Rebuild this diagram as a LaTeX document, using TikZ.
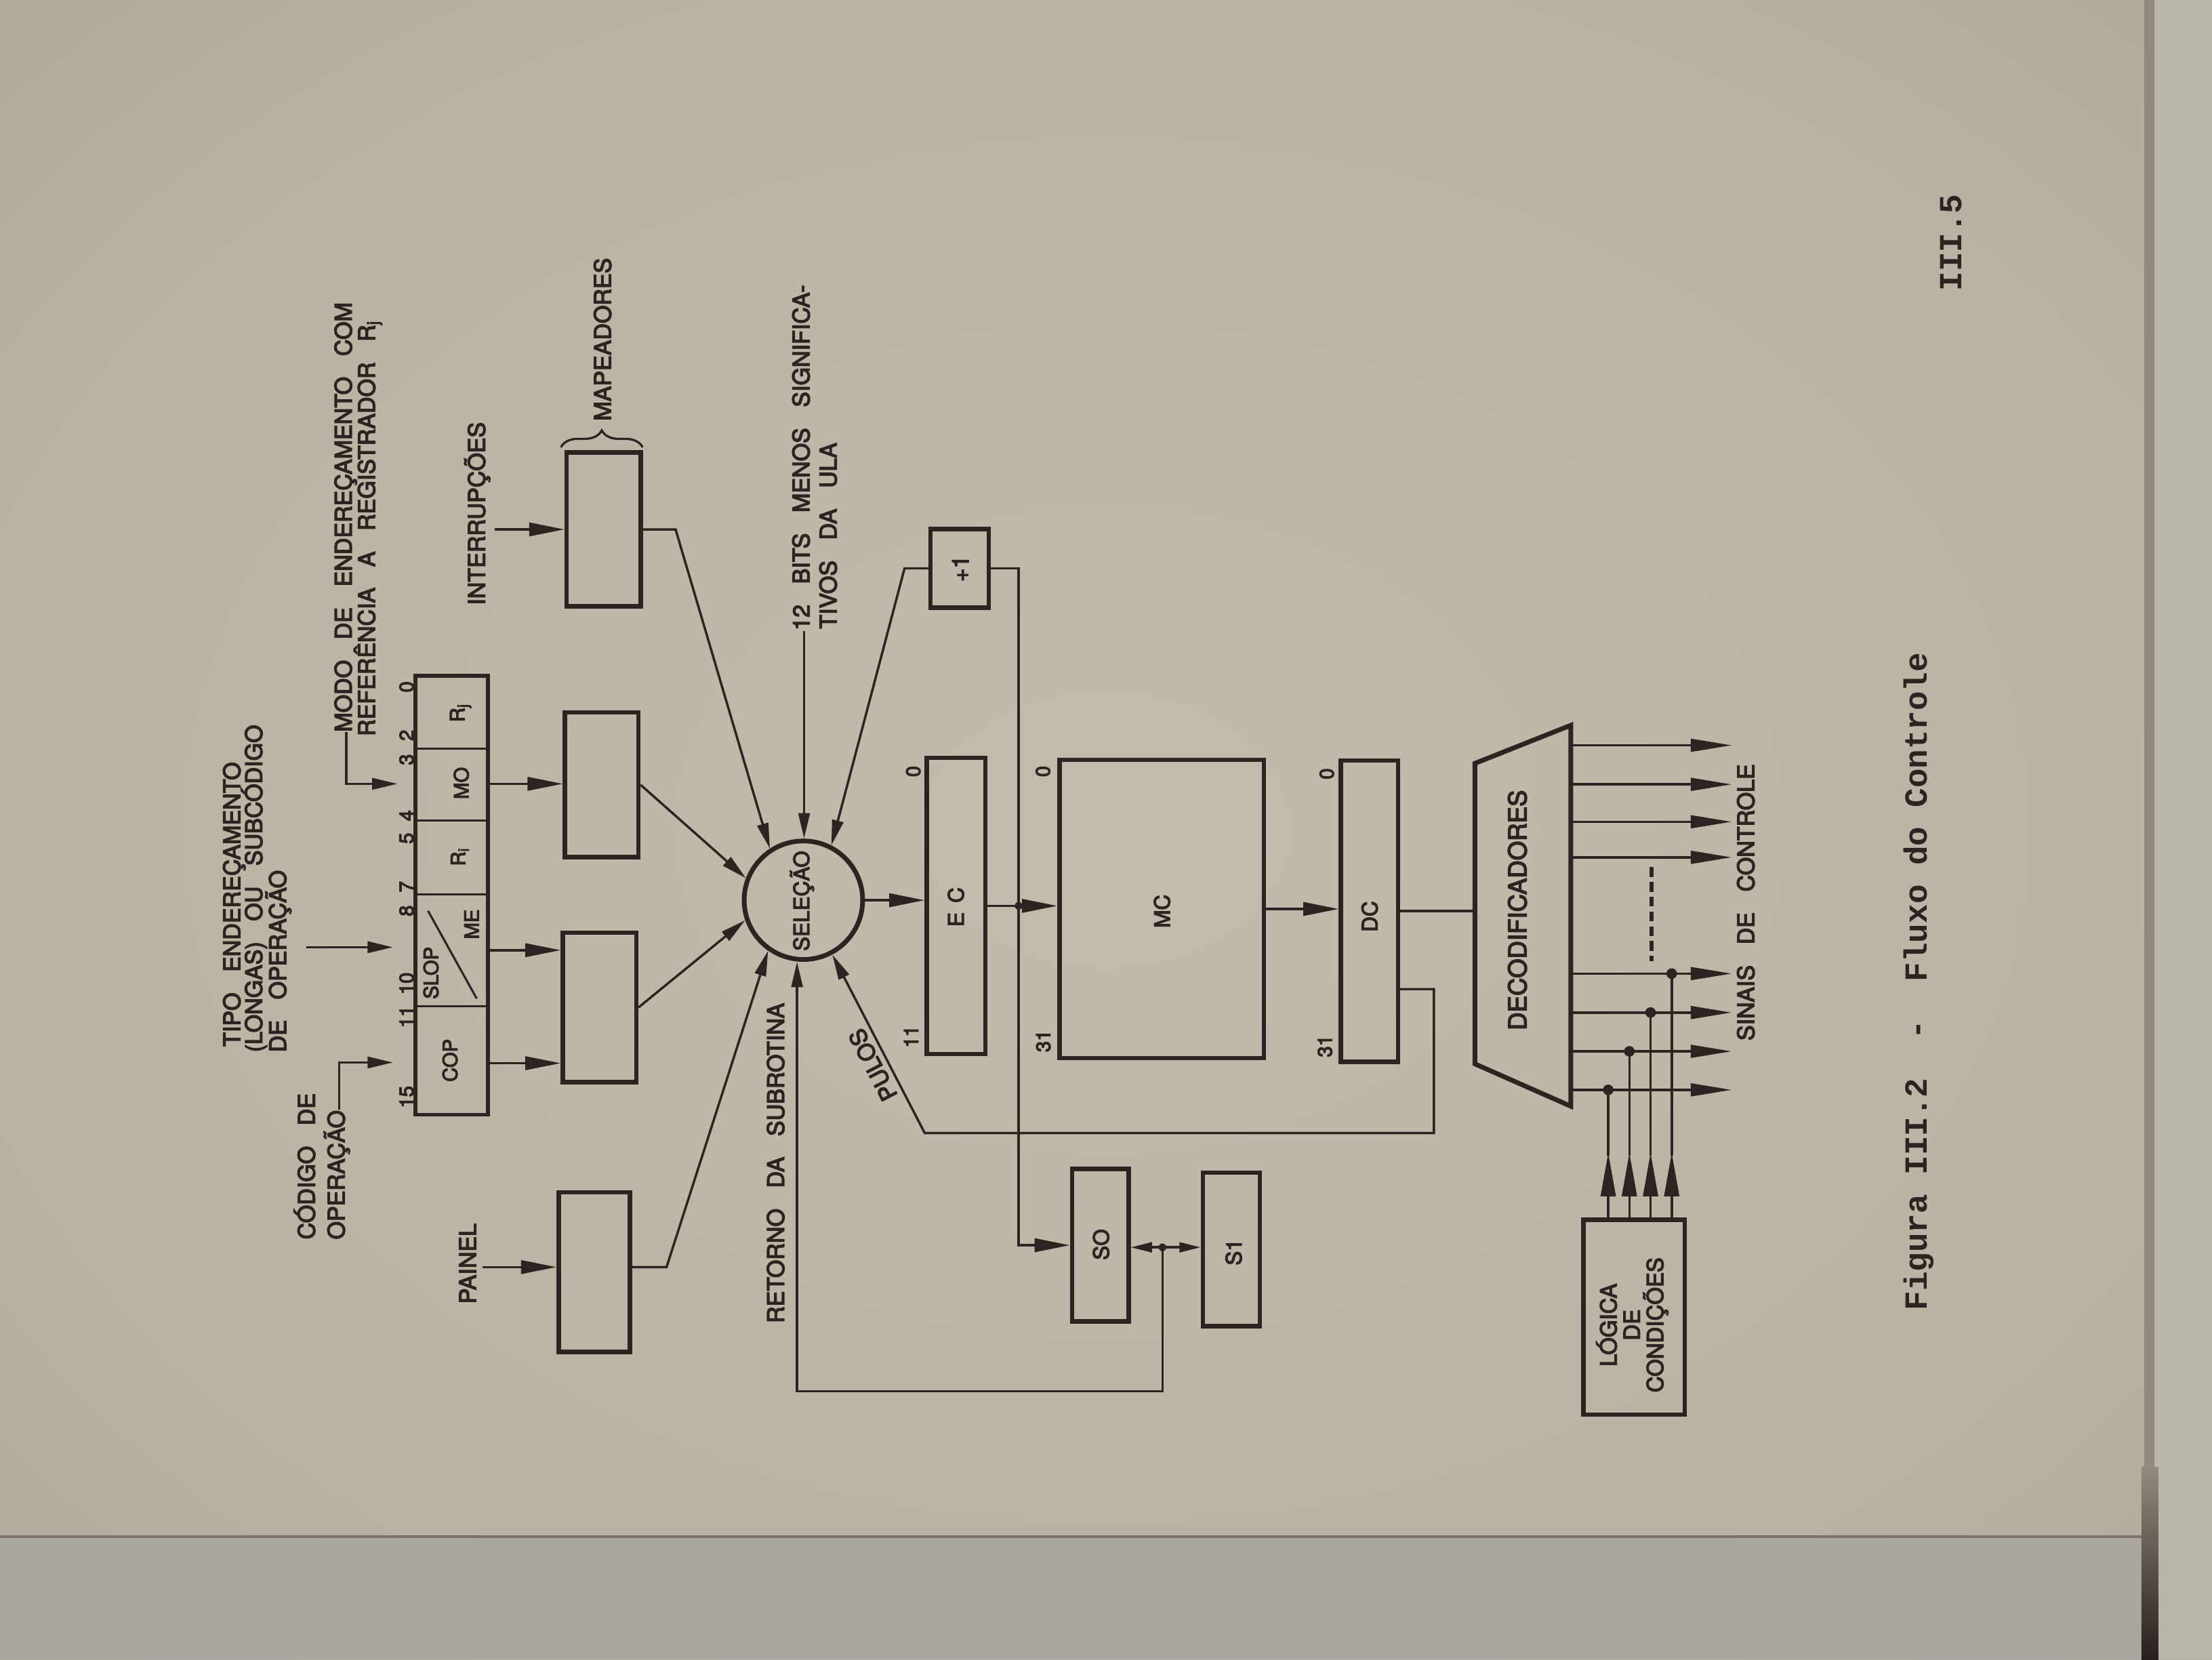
\documentclass[tikz,border=0pt]{standalone}
\usepackage{fontspec}
\setmonofont{Liberation Mono}
\newfontfamily\lettering{TeX Gyre Heros}[FakeBold=4]
\usetikzlibrary{arrows.meta,decorations.pathreplacing,calc}

\definecolor{ink}{RGB}{44,36,32}
\definecolor{paper}{RGB}{186,179,164}
\definecolor{paperhi}{RGB}{194,188,174}
\definecolor{paperlo}{RGB}{162,156,143}
\definecolor{nextpage}{RGB}{172,167,158}
\definecolor{bookedge}{RGB}{38,31,28}
\definecolor{farpage}{RGB}{186,181,170}

\pgfdeclareradialshading{paperglow}{\pgfpoint{0bp}{0bp}}{color(0bp)=(paperhi); color(25bp)=(paper); color(50bp)=(paperlo); color(80bp)=(paperlo)}

\newcommand\gap{\hspace{0.9em}}

\begin{document}
\begin{tikzpicture}[x=0.2mm,y=-0.2mm,
  wire/.style={draw=ink,line width=0.95pt},
  blk/.style 2 args={draw=ink,line width=1.8pt,inner sep=0pt,minimum width=#1*0.2mm,minimum height=#2*0.2mm},
  arrB/.style={-{Triangle[length=5mm,width=1.9mm]}},
  arrS/.style={-{Triangle[length=3.6mm,width=1.6mm]}},
  arrT/.style={-{Triangle[length=3mm,width=1.4mm]}},
  arrD/.style={-{Triangle[length=5.8mm,width=1.8mm]}},
  arrU/.style={-{Triangle[length=6.2mm,width=2.1mm]}},
  lbl/.style={font=\lettering\fontsize{9.3}{10}\selectfont,text=ink,rotate=90,inner sep=0pt},
  lbls/.style={font=\lettering\fontsize{8}{9}\selectfont,text=ink,rotate=90,inner sep=0pt},
  lblm/.style={font=\lettering\fontsize{8.6}{9}\selectfont,text=ink,rotate=90,inner sep=0pt},
  jdot/.style={circle,fill=ink,inner sep=0pt,minimum size=1.1mm},
  jdotL/.style={circle,fill=ink,inner sep=0pt,minimum size=1.5mm},
  tw/.style={font=\ttfamily\bfseries\fontsize{13}{14}\selectfont,text=ink,rotate=90,inner sep=0pt}
]
\useasboundingbox (0,0) rectangle (1568,1176);

% paper, next page and book edge
\shade[shading=paperglow] (0,0) rectangle (1568,1176);
\fill[nextpage] (0,1089) rectangle (1520,1176);
\draw[line width=1pt,draw=ink!40!nextpage] (0,1089) -- (1520,1089);
\fill[farpage] (1527,0) rectangle (1568,1176);
\fill[paperlo!85!ink] (1520,0) rectangle (1527,1176);
\shade[top color=paperlo!85!ink,bottom color=bookedge] (1518,1040) rectangle (1530,1176);

% ---------- instruction register ----------
\node[blk={51.3}{311},line width=1.6pt] (reg) at (320.2,634.5) {};
\draw[ink,line width=0.85pt] (294.6,530.5) -- (345.9,530.5) (294.6,581.5) -- (345.9,581.5)
  (294.6,633.7) -- (345.9,633.7) (294.6,713.2) -- (345.9,713.2);
\draw[ink,line width=0.85pt] (303.4,645.5) -- (337.9,707.7);
\node[lbls] (fRj) at (326.5,505) {R\textsubscript{j}};
\node[lbls] (fMO) at (327,555) {MO};
\node[lbls] (fRi) at (326,607) {R\textsubscript{i}};
\node[lbls] (fME) at (334.3,655) {ME};
\node[lbls] (fSLOP) at (305.5,689.5) {SLOP};
\node[lbls] (fCOP) at (319,751.5) {COP};
\foreach \t/\yy [count=\i] in {0/486.8,2/521.1,3/538.3,4/578,5/594.1,7/628.4,8/645.5,10/697,11/720.6,15/777.4}
  \node[lbls] (bit\i) at (288.2,\yy) {\t};

% ---------- labels on the left ----------
\node[lbl,anchor=mid west] (tipo1) at (166.5,742) {TIPO\gap ENDEREÇAMENTO};
\node[lbl,anchor=mid west] (tipo2) at (182,746) {(LONGAS)\gap OU\gap SUBCÓDIGO};
\node[lbl,anchor=mid west] (tipo3) at (199,746) {DE\gap OPERAÇÃO};
\node[lbl,anchor=mid west] (cod1) at (219.4,878.7) {CÓDIGO\gap DE};
\node[lbl,anchor=mid west] (cod2) at (240.5,878.7) {OPERAÇÃO};
\node[lbl,anchor=mid west] (modo1) at (245.5,519) {MODO\gap DE\gap ENDEREÇAMENTO\gap COM};
\node[lbl,anchor=mid west] (modo2) at (262,522) {REFERÊNCIA\gap A\gap REGISTRADOR\gap R\textsubscript{j}};
\node[lbl] (painel) at (331.5,895.5) {PAINEL};
\node[lbl] (interr) at (338.3,364) {INTERRUPÇÕES};
\node[lbl,anchor=mid west] (mapead) at (429.3,298.5) {MAPEADORES};
\node[lbl,anchor=mid west] (bits1) at (570,447) {12\gap BITS\gap MENOS\gap SIGNIFICA-};
\node[lbl,anchor=mid west] (bits2) at (589.2,446) {TIVOS\gap DA\gap ULA};
\node[lbl,anchor=mid west] (retorno) at (552,938) {RETORNO\gap DA\gap SUBROTINA};

% ---------- boxes ----------
\node[blk={52}{102.5}] (boxA) at (426.5,556.2) {};
\node[blk={52}{106}] (boxB) at (425,714) {};
\node[blk={50.5}{113}] (boxC) at (421.2,901.5) {};
\node[blk={52.4}{109}] (map) at (427.9,375.2) {};
\node[blk={41.3}{56}] (plus) at (680.3,402.8) {};
\node[blk={41.5}{210}] (ec) at (677.7,642) {};
\node[blk={145}{211.5}] (mc) at (823.5,644.2) {};
\node[blk={40.5}{213.5}] (dc) at (970.7,645.7) {};
\node[blk={40}{108}] (so) at (780,882.5) {};
\node[blk={40.4}{109}] (s1) at (872.8,885.5) {};
\node[blk={71.7}{138}] (logica) at (1158.3,933.5) {};
\node[circle,draw=ink,line width=1.9pt,minimum size=84*0.2mm,inner sep=0pt] (sel) at (569.5,638) {};

\draw[ink,line width=0.9pt,decorate,decoration={brace,amplitude=2.4mm}] (397.6,317) -- (455.5,317);

\node[lblm] (seltxt) at (568.5,638.5) {SELEÇÃO};
\node[lblm] (ectxt) at (677.6,642.8) {E\hspace{0.45em}C};
\node[lblm] (mctxt) at (823.7,645.8) {MC};
\node[lblm] (dctxt) at (970.9,649.5) {DC};
\node[lblm] (sotxt) at (780.5,882) {SO};
\node[lblm] (s1txt) at (874.5,887.5) {S1};
\node[lbl] (plustxt) at (680.8,403) {+1};
\node[lbl,font=\lettering\fontsize{10}{11}\selectfont] (dectxt) at (1075.6,645) {DECODIFICADORES};
\node[lbl,align=center,font=\lettering\fontsize{9}{9.4}\selectfont] (logtxt) at (1157,939) {LÓGICA\\DE\\CONDIÇÕES};

\node[lbls] (ec0) at (647.4,546.7) {0};
\node[lbls] (ec11) at (645.8,734.7) {11};
\node[lbls] (mc0) at (739.3,546.7) {0};
\node[lbls] (mc31) at (739.6,737.8) {31};
\node[lbls] (dc0) at (940.5,548.4) {0};
\node[lbls] (dc31) at (939.2,741.4) {31};

% ---------- inputs to the register ----------
\coordinate (tipoS) at (217,671.3);
\coordinate (tipoE) at (278.6,671.3);
\draw[wire,arrS] (tipoS) -- (tipoE);
\coordinate (codE) at (278.6,753);
\draw[wire,arrS] (cod2.mid east) |- (codE);
\coordinate (modoE) at (281.8,555.5);
\draw[wire,arrS] (modo1.mid west) |- (modoE);

% ---------- register fields to the boxes ----------
\coordinate (yMO) at (0,555.5);
\coordinate (yME) at (0,673.4);
\coordinate (yCOP) at (0,753.5);
\draw[wire,arrB] (reg.east |- yMO) -- (boxA.west |- yMO);
\draw[wire,arrB] (reg.east |- yME) -- (boxB.west |- yME);
\draw[wire,arrB] (reg.east |- yCOP) -- (boxB.west |- yCOP);

% ---------- sources of the selection ----------
\draw[wire,arrS] (boxA.east) -- (sel.159.5);
\draw[wire,arrS] (boxB.east) -- (sel.199.2);
\coordinate (panS) at (342,898);
\draw[wire,arrB] (panS) -- (panS -| boxC.west);
\coordinate (bcK) at (472.5,898);
\draw[wire,arrS] (boxC.east |- panS) -- (bcK) -- (sel.235.5);
\coordinate (intS) at (350.7,375.2);
\draw[wire,arrB] (intS) -- (map.west);
\coordinate (mpK) at (478.9,375.2);
\draw[wire,arrS] (map.east) -- (mpK) -- (sel.123);
\draw[wire,arrS] (bits1.mid west) -- (bits1.mid west |- sel.north);
\coordinate (plK) at (641.2,402.8);
\draw[wire,arrS] (plus.west) -- (plK) -- (sel.63.5);

% ---------- main flow ----------
\draw[wire,arrB] (sel.east) -- (sel.east -| ec.west);
\node[jdot] (ecdot) at (722,642) {};
\draw[wire,arrB] (ec.east) -- (mc.west |- ec.east);
\draw[wire] (plus.east) -| (ecdot.center);
\draw[wire,arrB] (ecdot.center) |- (so.west);
\node[jdot] (sodot) at (824,884) {};
\draw[wire,arrT] (sodot.center) -- (so.east |- sodot.center);
\draw[wire,arrT] (sodot.center) -- (s1.west |- sodot.center);
\coordinate (retK) at (565,986);
\draw[wire,arrS] (sodot.center) |- (retK) -- (retK |- sel.south);
\draw[wire,arrB] (mc.east) -- (mc.east -| dc.west);

% jumps from DC back to the selection
\coordinate (puA) at (1016.4,701);
\coordinate (puB) at (1016.4,803);
\coordinate (puC) at (655.5,803);
\draw[wire,arrS] (dc.east |- puA) -- (puA) -- (puB) -- (puC) -- (sel.298);
\path (puC) -- (sel.298) node[pos=0.42,anchor=south,rotate=117.4,inner sep=2.2pt,text=ink,font=\lettering\fontsize{9.3}{10}\selectfont] (pulos) {PULOS};

% ---------- decoders ----------
\coordinate (decTL) at (1045.5,541);
\coordinate (decTR) at (1113.5,514);
\coordinate (decBR) at (1113.5,784);
\coordinate (decBL) at (1045.5,754);
\draw[ink,line width=1.9pt,line join=miter] (decTL) -- (decTR) -- (decBR) -- (decBL) -- cycle;
\draw[wire] (dc.east) -- (dc.east -| decTL);
\foreach \yy [count=\i] in {528.2,555.9,582.4,607.6,690,717.6,745.1,772.4} {
  \coordinate (oa\i) at (1113.5,\yy);
  \coordinate (ob\i) at (1227.5,\yy);
  \draw[wire,arrD] (oa\i) -- (ob\i);
}
\draw[ink,line width=1.6pt,dash pattern=on 1.4mm off 0.7mm] (1170.8,614.5) -- (1170.8,681);
\foreach \xx/\yy [count=\i] in {1185/690,1170/717.6,1155/745.1,1140/772.4} {
  \node[jdotL] (cd\i) at (\xx,\yy) {};
  \draw[wire,arrU] (logica.north -| cd\i) -- ($(logica.north -| cd\i)+(0,-46)$);
  \draw[wire] ($(logica.north -| cd\i)+(0,-44)$) -- (cd\i.center);
}
\node[lbl,anchor=mid west] (sinais) at (1239.7,737.8) {SINAIS\gap DE\gap CONTROLE};

% ---------- caption and page number ----------
\node[tw,anchor=mid west] (caption) at (1362,929) {Figura III.2~~-~~Fluxo do Controle};
\node[tw] (pagenum) at (1383,172) {III.5};
\end{tikzpicture}
\end{document}
